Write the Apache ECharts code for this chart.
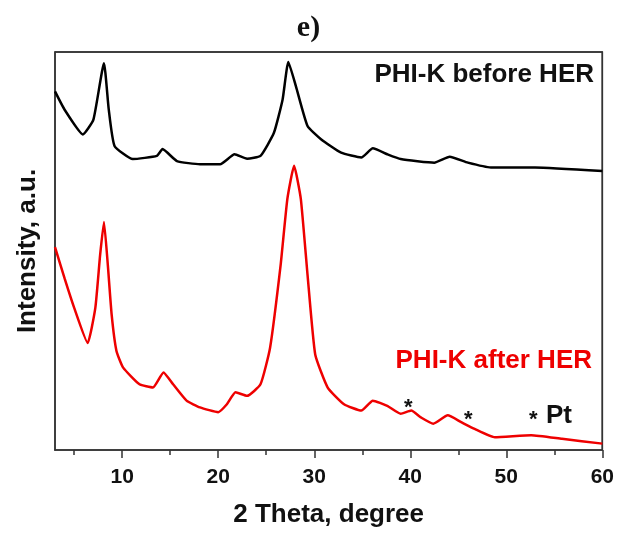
<!DOCTYPE html>
<html>
<head>
<meta charset="utf-8">
<script src="https://cdn.jsdelivr.net/npm/echarts@6/dist/echarts.min.js"></script>
<style>
  html, body { margin: 0; padding: 0; background: #fff; }
  #chart { width: 617px; height: 533px; }
</style>
</head>
<body>
<div id="chart"></div>
<script>
// 2θ (degree) and intensity (a.u.)
const thetaBefore = [3.0, 4.0, 5.9, 7.0, 8.1, 8.6, 9.2, 11.1, 13.6, 14.2, 15.7, 18.1, 20.2, 21.7, 23.0, 24.4, 25.8, 26.7, 27.3, 28.1, 29.3, 30.7, 32.8, 34.9, 36.1, 37.6, 39.0, 42.5, 44.1, 46.0, 48.4, 53.0, 60.0];
const intensityBefore = [90.1, 85.5, 79.3, 83.0, 97.2, 85.5, 76.4, 73.1, 73.9, 75.6, 72.6, 71.8, 71.8, 74.3, 73.2, 73.9, 79.7, 88.0, 97.5, 91.3, 81.4, 78.1, 74.7, 73.5, 75.8, 74.3, 73.1, 72.2, 73.7, 72.2, 71.0, 71.0, 70.1];

const thetaAfter = [3.0, 4.0, 5.0, 6.4, 7.2, 7.7, 8.1, 8.5, 8.9, 9.4, 10.1, 11.8, 13.2, 14.3, 15.3, 16.7, 18.1, 20.0, 20.9, 21.8, 23.0, 24.4, 25.4, 26.5, 27.2, 27.9, 28.6, 29.3, 30.1, 31.4, 33.1, 34.9, 36.1, 37.6, 39.0, 40.1, 41.1, 42.4, 43.9, 45.3, 46.7, 48.8, 52.6, 55.8, 60.0];
const intensityAfter = [51.0, 43.1, 35.7, 26.9, 35.7, 49.0, 57.3, 46.5, 34.0, 24.9, 20.7, 16.5, 15.7, 19.5, 16.5, 12.4, 10.7, 9.5, 11.5, 14.5, 13.6, 16.5, 25.7, 46.5, 63.1, 71.4, 63.1, 44.0, 24.0, 15.7, 11.5, 9.9, 12.4, 11.1, 9.1, 9.9, 8.2, 6.6, 8.7, 7.0, 5.3, 3.2, 3.7, 2.8, 1.6];

const majorTicks = [10, 20, 30, 40, 50, 60];
const minorTicks = [5, 15, 25, 35, 45, 55];
const xRange = [3, 60];
const yRange = [0, 100];

const seriesNames = ['PHI-K before HER', 'PHI-K after HER'];
const peakMarks = ['*', '*', '*'];

const zip = (xs, ys) => xs.map((x, i) => [x, ys[i]]);

const chart = echarts.init(document.getElementById('chart'), null, { renderer: 'canvas' });
const font = 'Liberation Sans, Arial, sans-serif';
const axisColor = '#333';

// top and right edges of the plot frame, drawn through the axes' scales
const frameEdge = [[xRange[0], yRange[1]], [xRange[1], yRange[1]], [xRange[1], yRange[0]]];

chart.setOption({
  animation: false,
  backgroundColor: '#fff',
  title: {
    text: 'e)',
    left: 'center',
    top: 8,
    textStyle: { fontFamily: 'Liberation Serif, serif', fontSize: 30, fontWeight: 'bold', color: '#111' }
  },
  grid: {
    left: 55, right: 14, top: 52, bottom: 79,
    show: true, borderColor: axisColor, borderWidth: 1.5
  },
  xAxis: [
    {
      type: 'value', min: xRange[0], max: xRange[1], position: 'bottom',
      name: '2 Theta, degree', nameLocation: 'middle', nameGap: 52,
      nameTextStyle: { fontFamily: font, fontSize: 26, fontWeight: 'bold', color: '#111' },
      axisLine: { show: true, onZero: false, lineStyle: { color: axisColor, width: 1.5 } },
      axisTick: { show: true, customValues: majorTicks, length: 8, lineStyle: { color: axisColor, width: 1.5 } },
      axisLabel: { customValues: majorTicks, fontFamily: font, fontSize: 21, fontWeight: 'bold', color: '#111', margin: 17 },
      splitLine: { show: false }
    },
    {
      type: 'value', min: xRange[0], max: xRange[1], position: 'bottom',
      axisLine: { show: false, onZero: false },
      axisTick: { show: true, customValues: minorTicks, length: 5, lineStyle: { color: axisColor, width: 1.5 } },
      axisLabel: { show: false },
      splitLine: { show: false }
    }
  ],
  yAxis: {
    type: 'value', min: yRange[0], max: yRange[1], position: 'left',
    name: 'Intensity, a.u.', nameLocation: 'middle', nameGap: 14,
    nameTextStyle: { fontFamily: font, fontSize: 26, fontWeight: 'bold', color: '#111' },
    axisLine: { show: true, onZero: false, lineStyle: { color: axisColor, width: 1.5 } },
    axisTick: { show: false },
    axisLabel: { show: false },
    splitLine: { show: false }
  },
  series: [
    {
      name: 'frame', type: 'line', xAxisIndex: 0, yAxisIndex: 0,
      data: frameEdge, showSymbol: false, clip: false, silent: true,
      lineStyle: { color: axisColor, width: 1.5 }
    },
    {
      name: seriesNames[0], type: 'line', xAxisIndex: 0, yAxisIndex: 0,
      data: zip(thetaBefore, intensityBefore),
      showSymbol: false, smooth: 0.15,
      lineStyle: { color: '#000', width: 2.5 }
    },
    {
      name: seriesNames[1], type: 'line', xAxisIndex: 0, yAxisIndex: 0,
      data: zip(thetaAfter, intensityAfter),
      showSymbol: false, smooth: 0.15,
      lineStyle: { color: '#ee0000', width: 2.5 }
    }
  ],
  graphic: [
    { type: 'text', right: 23, top: 62, style: { text: seriesNames[0], font: 'bold 26px ' + font, fill: '#111' } },
    { type: 'text', right: 25, top: 348, style: { text: seriesNames[1], font: 'bold 26px ' + font, fill: '#ee0000' } },
    { type: 'text', left: 404, top: 397, style: { text: peakMarks[0], font: 'bold 22px ' + font, fill: '#111' } },
    { type: 'text', left: 464, top: 409, style: { text: peakMarks[1], font: 'bold 22px ' + font, fill: '#111' } },
    { type: 'text', left: 529, top: 409, style: { text: peakMarks[2], font: 'bold 22px ' + font, fill: '#111' } },
    { type: 'text', left: 546, top: 403, style: { text: 'Pt', font: 'bold 26px ' + font, fill: '#111' } }
  ]
});
</script>
</body>
</html>
